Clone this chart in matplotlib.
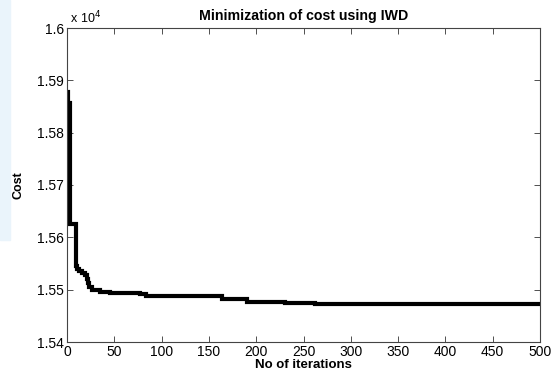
import numpy as np
import matplotlib
matplotlib.use("Agg")
import matplotlib.pyplot as plt
from matplotlib.ticker import FuncFormatter

# iteration where the best cost changes, and the cost from there on
iters = [0, 1, 3, 9, 11, 13, 16, 19, 21, 22, 23, 26, 35, 45, 58, 77, 84, 101,
         164, 167, 190, 230, 262, 500]
cost = [15878, 15856, 15626, 15545, 15540, 15535, 15532, 15528, 15520, 15512,
        15505, 15499, 15496, 15494, 15493, 15491, 15488, 15488,
        15483, 15482, 15476, 15475, 15473, 15473]

xticks = np.arange(0, 501, 50)
yticks = [15400, 15500, 15600, 15700, 15800, 15900, 16000]

plt.rcParams['font.family'] = ['Liberation Sans', 'DejaVu Sans']

fig = plt.figure(figsize=(5.58, 3.74), dpi=100)
# faint blue strip at the left edge of the screenshot
fig.patches.append(plt.Rectangle((0, 134 / 374), 10 / 558, 240 / 374,
                                 transform=fig.transFigure,
                                 color='#eaf4fb', zorder=0))
ax = fig.add_axes([67 / 558, 32 / 374, 473 / 558, 314 / 374])

ax.plot(iters, cost, drawstyle='steps-post', color='black', lw=3.0,
        solid_joinstyle='miter')

ax.set_xlim(0, 500)
ax.set_ylim(15400, 16000)
ax.set_xticks(xticks)
ax.set_yticks(yticks)
ax.yaxis.set_major_formatter(FuncFormatter(lambda v, p: '%g' % (v / 1e4)))
ax.tick_params(direction='in', top=True, right=True, length=4, width=0.6,
               labelsize=10, color='#333333', pad=2)
for s in ax.spines.values():
    s.set_linewidth(0.8)
    s.set_color('#444444')

ax.text(0.0, 1.005, ' x 10$^4$', transform=ax.transAxes, fontsize=9,
        ha='left', va='bottom')
ax.set_title('Minimization of cost using IWD', fontsize=10.2, fontweight='bold',
             pad=6)
ax.set_xlabel('No of iterations', fontsize=9.5, fontweight='bold', labelpad=0)
ax.set_ylabel('Cost', fontsize=9, fontweight='bold', labelpad=9)

fig.savefig('out.png', dpi=100)
